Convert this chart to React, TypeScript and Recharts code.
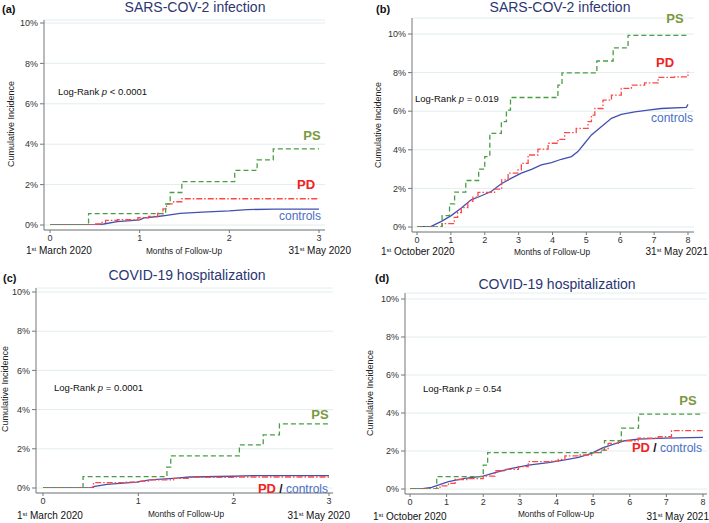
import React from 'react'
import { LineChart, Line, XAxis, YAxis, CartesianGrid } from 'recharts'

// [months of follow-up, cumulative incidence %]
// (a) infection, Mar-May 2020
const infMarPS = [[0, 0], [0.43, 0.56], [1.29, 1.04], [1.34, 1.61], [1.47, 2.15], [2.06, 2.7], [2.31, 3.22], [2.49, 3.77], [3, 3.77]]
const infMarPD = [[0, 0], [0.5, 0.05], [0.56, 0.13], [0.62, 0.23], [0.75, 0.26], [0.98, 0.36], [1.1, 0.42], [1.2, 0.57], [1.26, 0.8], [1.3, 1.05], [1.38, 1.15], [1.47, 1.3], [3, 1.33]]
const infMarCtl = [[0, 0], [0.5, 0], [0.6, 0.05], [0.75, 0.17], [0.9, 0.22], [1.0, 0.25], [1.05, 0.35], [1.2, 0.42], [1.3, 0.48], [1.45, 0.58], [1.7, 0.64], [2.0, 0.7], [2.2, 0.76], [2.5, 0.79], [3, 0.79]]

// (b) infection, Oct 2020-May 2021
const infOctPS = [[0, 0], [0.74, 0.59], [0.96, 1.2], [1.11, 1.81], [1.44, 2.41], [1.82, 3.0], [2.0, 3.65], [2.15, 4.85], [2.49, 5.46], [2.64, 6.06], [2.76, 6.71], [4.16, 7.35], [4.28, 7.99], [5.31, 8.6], [5.79, 9.28], [6.23, 9.93], [8, 10.5]]
const infOctPD = [[0, 0], [0.74, 0.17], [1.1, 0.5], [1.2, 0.75], [1.31, 1.0], [1.5, 1.33], [1.65, 1.55], [1.8, 1.79], [2.29, 1.96], [2.5, 2.44], [2.69, 2.79], [2.98, 2.96], [3.08, 3.3], [3.28, 3.73], [3.57, 4.03], [3.87, 4.34], [4.16, 4.54], [4.36, 4.89], [4.7, 5.11], [5.05, 5.46], [5.15, 5.8], [5.25, 6.14], [5.49, 6.57], [5.74, 6.83], [6.03, 7.18], [6.33, 7.35], [6.72, 7.47], [7.12, 7.75], [7.6, 7.78], [8, 8.05]]
const infOctCtl = [[0, 0], [0.42, 0.03], [0.72, 0.29], [1.01, 0.59], [1.31, 0.98], [1.6, 1.41], [1.9, 1.62], [2.19, 1.84], [2.49, 2.24], [2.79, 2.53], [3.08, 2.79], [3.38, 2.99], [3.67, 3.22], [3.97, 3.34], [4.26, 3.51], [4.56, 3.65], [4.75, 3.91], [4.95, 4.34], [5.15, 4.77], [5.44, 5.2], [5.74, 5.63], [6.03, 5.83], [6.43, 5.96], [6.82, 6.06], [7.21, 6.14], [7.95, 6.2], [8, 6.35]]

// (c) hospitalization, Mar-May 2020
const hospMarPS = [[0, 0], [0.42, 0.58], [1.3, 1.06], [1.34, 1.64], [2.06, 2.2], [2.31, 2.71], [2.48, 3.27], [3, 3.27]]
const hospMarPD = [[0, 0], [0.53, 0.27], [0.85, 0.3], [1.0, 0.35], [1.12, 0.41], [1.37, 0.49], [1.54, 0.54], [2.0, 0.56], [3, 0.56]]
const hospMarCtl = [[0, 0], [0.5, 0], [0.53, 0.07], [0.67, 0.19], [0.98, 0.3], [1.12, 0.41], [1.37, 0.49], [1.54, 0.56], [1.99, 0.6], [2.2, 0.63], [3, 0.63]]

// (d) hospitalization, Oct 2020-May 2021
const hospOctPS = [[0, 0], [0.73, 0.65], [2.0, 1.26], [2.12, 1.91], [5.22, 2.05], [5.31, 2.55], [5.77, 3.2], [6.24, 3.94], [8, 3.94]]
const hospOctPD = [[0, 0], [0.82, 0.16], [1.05, 0.3], [1.23, 0.5], [1.6, 0.55], [2.0, 0.68], [2.32, 0.96], [2.6, 1.03], [2.96, 1.18], [3.23, 1.44], [3.87, 1.47], [4.05, 1.56], [4.23, 1.74], [4.6, 1.79], [4.96, 1.91], [5.14, 2.05], [5.41, 2.4], [5.69, 2.54], [6.23, 2.67], [6.78, 2.75], [7.14, 3.07], [8, 3.07]]
const hospOctCtl = [[0, 0], [0.3, 0.01], [0.59, 0.09], [1.05, 0.39], [1.5, 0.56], [2.0, 0.68], [2.32, 0.86], [2.78, 1.09], [3.23, 1.26], [3.78, 1.39], [4.23, 1.53], [4.6, 1.67], [4.96, 1.88], [5.23, 2.14], [5.5, 2.32], [5.87, 2.54], [6.23, 2.63], [6.96, 2.68], [8, 2.72]]

const monthsMar = [0, 1, 2, 3]
const monthsOct = [0, 1, 2, 3, 4, 5, 6, 7, 8]
const pctTicks = [0, 2, 4, 6, 8, 10]

const FONT = '"Liberation Sans", Arial, Helvetica, sans-serif'
const PS_LINE = '#4a9d45'
const PD_LINE = '#ff4747'
const CTL_LINE = '#4350b2'
const PS_TXT = '#789a3c'
const PD_TXT = '#f02222'
const CTL_TXT = '#4a6ec4'
const TITLE = '#2b3672'

const pts = (a: number[][]) => a.map(([t, v]) => ({ t, v }))

interface PanelProps {
  left: number
  top: number
  width: number
  height: number
  margin: { top: number; right: number; bottom: number; left: number }
  xMax: number
  xTicks: number[]
  xPad: { left: number; right: number }
  yPad: { top: number; bottom: number }
  xAxisHeight: number
  ps: number[][]
  pd: number[][]
  ctl: number[][]
}

function Panel(p: PanelProps) {
  return (
    <div style={{ position: 'absolute', left: p.left, top: p.top }}>
      <LineChart width={p.width} height={p.height} margin={p.margin}>
        <CartesianGrid vertical={false} stroke="#e2edef" />
        <XAxis
          type="number"
          dataKey="t"
          domain={[0, p.xMax]}
          ticks={p.xTicks}
          padding={p.xPad}
          height={p.xAxisHeight}
          tickSize={3}
          tickMargin={2}
          stroke="#777"
          tick={{ fontSize: 9, fill: '#333' }}
        />
        <YAxis
          type="number"
          domain={[0, 10]}
          ticks={pctTicks}
          allowDataOverflow
          padding={p.yPad}
          width={30}
          tickSize={4}
          tickMargin={2}
          tickFormatter={(v) => `${v}%`}
          stroke="#777"
          tick={{ fontSize: 9, fill: '#333' }}
        />
        <Line data={pts(p.ctl)} dataKey="v" type="linear" stroke={CTL_LINE} strokeWidth={1.3} dot={false} isAnimationActive={false} />
        <Line data={pts(p.pd)} dataKey="v" type="stepAfter" stroke={PD_LINE} strokeWidth={1.3} strokeDasharray="6 2 1.5 2" dot={false} isAnimationActive={false} />
        <Line data={pts(p.ps)} dataKey="v" type="stepAfter" stroke={PS_LINE} strokeWidth={1.3} strokeDasharray="5 3" dot={false} isAnimationActive={false} />
      </LineChart>
    </div>
  )
}

interface TxtProps {
  x: number
  y: number
  size: number
  color?: string
  bold?: boolean
  anchor?: 'start' | 'middle' | 'end'
  rotate?: boolean
  children: React.ReactNode
}

function Txt({ x, y, size, color = '#111', bold, anchor = 'start', rotate, children }: TxtProps) {
  const tx = anchor === 'start' ? '0' : anchor === 'middle' ? '-50%' : '-100%'
  return (
    <div
      style={{
        position: 'absolute',
        left: x,
        top: y,
        fontSize: size,
        lineHeight: 1,
        color,
        fontWeight: bold ? 700 : 400,
        whiteSpace: 'nowrap',
        transform: rotate ? 'translate(-50%,-50%) rotate(-90deg)' : `translate(${tx},-50%)`,
      }}
    >
      {children}
    </div>
  )
}

const Sup = ({ children }: { children: React.ReactNode }) => (
  <span style={{ fontSize: '0.6em', verticalAlign: '0.55em', lineHeight: 0 }}>{children}</span>
)

export default function App() {
  return (
    <div style={{ position: 'relative', width: 709, height: 523, background: '#fff', fontFamily: FONT, overflow: 'hidden' }}>
      <style>{'body{margin:0}'}</style>

      <Panel left={0} top={0} width={355} height={260} margin={{ top: 20, right: 30, bottom: 0, left: 14 }}
        xMax={3} xTicks={monthsMar} xPad={{ left: 6, right: 6 }} yPad={{ top: 3, bottom: 5 }} xAxisHeight={30}
        ps={infMarPS} pd={infMarPD} ctl={infMarCtl} />
      <Panel left={355} top={0} width={354} height={260} margin={{ top: 18, right: 15, bottom: 0, left: 27 }}
        xMax={8} xTicks={monthsOct} xPad={{ left: 5, right: 6 }} yPad={{ top: 16, bottom: 5 }} xAxisHeight={28}
        ps={infOctPS} pd={infOctPD} ctl={infOctCtl} />
      <Panel left={0} top={260} width={355} height={263} margin={{ top: 28, right: 22, bottom: 0, left: 6 }}
        xMax={3} xTicks={monthsMar} xPad={{ left: 7, right: 4 }} yPad={{ top: 4, bottom: 5 }} xAxisHeight={30}
        ps={hospMarPS} pd={hospMarPD} ctl={hospMarCtl} />
      <Panel left={355} top={260} width={354} height={263} margin={{ top: 33, right: 2, bottom: 0, left: 20 }}
        xMax={8} xTicks={monthsOct} xPad={{ left: 5, right: 4 }} yPad={{ top: 6, bottom: 5 }} xAxisHeight={29}
        ps={hospOctPS} pd={hospOctPD} ctl={hospOctCtl} />

      {/* (a) */}
      <Txt x={2} y={9} size={11} bold>(a)</Txt>
      <Txt x={195} y={7} size={14} color={TITLE} anchor="middle">SARS-COV-2 infection</Txt>
      <Txt x={58} y={92} size={9.5}>Log-Rank <i>p</i> &lt; 0.0001</Txt>
      <Txt x={312} y={135} size={13} bold color={PS_TXT} anchor="middle">PS</Txt>
      <Txt x={306} y={184} size={13} bold color={PD_TXT} anchor="middle">PD</Txt>
      <Txt x={300} y={216} size={12} color={CTL_TXT} anchor="middle">controls</Txt>
      <Txt x={11} y={124} size={9} rotate color="#222">Cumulative Incidence</Txt>
      <Txt x={26} y={251} size={10}>1<Sup>st</Sup> March 2020</Txt>
      <Txt x={184} y={251} size={8.3} anchor="middle" color="#222">Months of Follow-Up</Txt>
      <Txt x={351} y={251} size={10} anchor="end">31<Sup>st</Sup> May 2020</Txt>

      {/* (b) */}
      <Txt x={376} y={9} size={11} bold>(b)</Txt>
      <Txt x={560} y={7} size={14} color={TITLE} anchor="middle">SARS-COV-2 infection</Txt>
      <Txt x={415} y={99} size={9.5}>Log-Rank <i>p</i> = 0.019</Txt>
      <Txt x={675} y={18} size={13} bold color={PS_TXT} anchor="middle">PS</Txt>
      <Txt x={665} y={62} size={13} bold color={PD_TXT} anchor="middle">PD</Txt>
      <Txt x={672} y={118} size={12} color={CTL_TXT} anchor="middle">controls</Txt>
      <Txt x={378} y={125} size={9} rotate color="#222">Cumulative Incidence</Txt>
      <Txt x={381} y={252} size={10}>1<Sup>st</Sup> October 2020</Txt>
      <Txt x={552} y={252} size={8.3} anchor="middle" color="#222">Months of Follow-Up</Txt>
      <Txt x={708} y={252} size={10} anchor="end">31<Sup>st</Sup> May 2021</Txt>

      {/* (c) */}
      <Txt x={3} y={278} size={11} bold>(c)</Txt>
      <Txt x={187} y={275} size={14} color={TITLE} anchor="middle">COVID-19 hospitalization</Txt>
      <Txt x={54} y={388} size={9.5}>Log-Rank <i>p</i> = 0.0001</Txt>
      <Txt x={320} y={414} size={13} bold color={PS_TXT} anchor="middle">PS</Txt>
      <Txt x={328} y={488} size={12} anchor="end">
        <b style={{ color: PD_TXT, fontSize: 13 }}>PD</b> <b style={{ color: '#111' }}>/</b> <span style={{ color: CTL_TXT }}>controls</span>
      </Txt>
      <Txt x={5} y={389} size={9} rotate color="#222">Cumulative Incidence</Txt>
      <Txt x={17} y={516} size={10}>1<Sup>st</Sup> March 2020</Txt>
      <Txt x={186} y={514} size={8.3} anchor="middle" color="#222">Months of Follow-Up</Txt>
      <Txt x={350} y={516} size={10} anchor="end">31<Sup>st</Sup> May 2020</Txt>

      {/* (d) */}
      <Txt x={375} y={278} size={11} bold>(d)</Txt>
      <Txt x={557} y={284} size={14} color={TITLE} anchor="middle">COVID-19 hospitalization</Txt>
      <Txt x={423} y={389} size={9.5}>Log-Rank <i>p</i> = 0.54</Txt>
      <Txt x={688} y={400} size={13} bold color={PS_TXT} anchor="middle">PS</Txt>
      <Txt x={702} y={447} size={12} anchor="end">
        <b style={{ color: PD_TXT, fontSize: 13 }}>PD</b> <b style={{ color: '#111' }}>/</b> <span style={{ color: CTL_TXT }}>controls</span>
      </Txt>
      <Txt x={370} y={393} size={9} rotate color="#222">Cumulative Incidence</Txt>
      <Txt x={373} y={517} size={10}>1<Sup>st</Sup> October 2020</Txt>
      <Txt x={556} y={514} size={8.3} anchor="middle" color="#222">Months of Follow-Up</Txt>
      <Txt x={709} y={517} size={10} anchor="end">31<Sup>st</Sup> May 2021</Txt>
    </div>
  )
}
